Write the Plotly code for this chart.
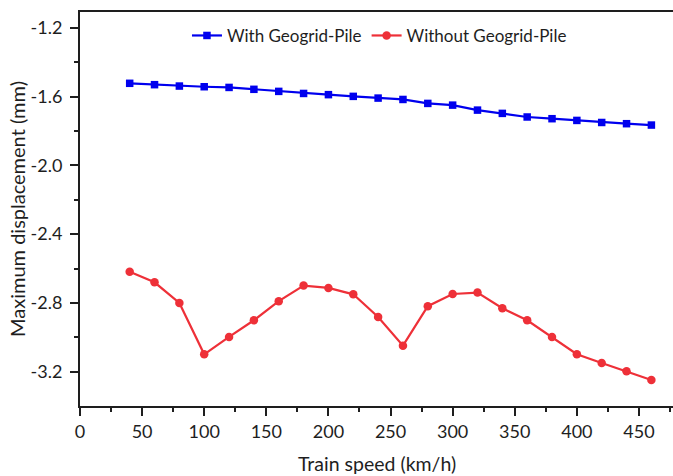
import plotly.graph_objects as go

speed = [40, 60, 80, 100, 120, 140, 160, 180, 200, 220, 240, 260, 280, 300, 320, 340, 360, 380, 400, 420, 440, 460]
with_pile = [-1.522, -1.530, -1.538, -1.542, -1.546, -1.557, -1.569, -1.581, -1.588, -1.598, -1.608, -1.616,
             -1.639, -1.649, -1.678, -1.697, -1.718, -1.728, -1.738, -1.750, -1.757, -1.765]
without_pile = [-2.619, -2.680, -2.800, -3.099, -2.998, -2.901, -2.790, -2.699, -2.713, -2.750, -2.882, -3.049,
                -2.819, -2.748, -2.740, -2.831, -2.901, -2.998, -3.099, -3.150, -3.198, -3.249]
x_ticks = [0, 50, 100, 150, 200, 250, 300, 350, 400, 450]
y_ticks = [-1.2, -1.6, -2.0, -2.4, -2.8, -3.2]
y_minor = [-1.4, -1.8, -2.2, -2.6, -3.0]

FONT = "Lato, Open Sans, sans-serif"
TXT = "#1e1e1e"

fig = go.Figure()
fig.add_trace(go.Scatter(
    x=speed, y=with_pile, mode="lines+markers", name="With Geogrid-Pile",
    line=dict(color="#0000EE", width=2.2),
    marker=dict(symbol="square", size=7.5, color="#0000EE"),
))
fig.add_trace(go.Scatter(
    x=speed, y=without_pile, mode="lines+markers", name="Without Geogrid-Pile",
    line=dict(color="#EE3038", width=2.2),
    marker=dict(symbol="circle", size=8.5, color="#EE3038"),
))

fig.update_layout(
    width=673, height=476,
    margin=dict(l=80, r=0, t=12, b=70),
    paper_bgcolor="white", plot_bgcolor="white",
    font=dict(family=FONT, size=17, color=TXT),
    showlegend=True,
    legend=dict(orientation="h", x=0.505, xanchor="center", y=0.985, yanchor="top",
                font=dict(family=FONT, size=17, color=TXT),
                bgcolor="rgba(0,0,0,0)", tracegroupgap=0),
    annotations=[
        dict(text="Train speed (km/h)", xref="paper", yref="paper", x=0.5, y=0, yshift=-44,
             xanchor="center", yanchor="top", showarrow=False,
             font=dict(family=FONT, size=19.5, color=TXT)),
        dict(text="Maximum displacement (mm)", xref="paper", yref="paper", x=0, xshift=-77, y=0.5,
             xanchor="left", yanchor="middle", textangle=-90, showarrow=False,
             font=dict(family=FONT, size=20, color=TXT)),
    ],
)
fig.update_xaxes(
    range=[0, 477.4], tickvals=x_ticks, ticktext=[str(v) for v in x_ticks],
    showgrid=False, zeroline=False, automargin=False,
    showline=True, linecolor=TXT, linewidth=2, mirror=True,
    ticks="outside", ticklen=8, tickwidth=2, tickcolor=TXT,
    minor=dict(dtick=25, tick0=0, ticks="outside", ticklen=4, tickwidth=2, tickcolor=TXT, showgrid=False),
    tickfont=dict(family=FONT, size=18, color=TXT),
)
fig.update_yaxes(
    range=[-3.4, -1.107], tickvals=y_ticks, ticktext=["%.1f" % v for v in y_ticks],
    showgrid=False, zeroline=False, automargin=False,
    showline=True, linecolor=TXT, linewidth=2,
    ticks="outside", ticklen=8, tickwidth=2, tickcolor=TXT,
    minor=dict(tickvals=y_minor, ticks="outside", ticklen=4, tickwidth=2, tickcolor=TXT, showgrid=False),
    tickfont=dict(family=FONT, size=18, color=TXT),
    ticklabelstandoff=4,
)

fig.write_html("out.html", config={"displayModeBar": False},
               post_script="document.body.style.margin='0';document.body.style.overflow='hidden';")
